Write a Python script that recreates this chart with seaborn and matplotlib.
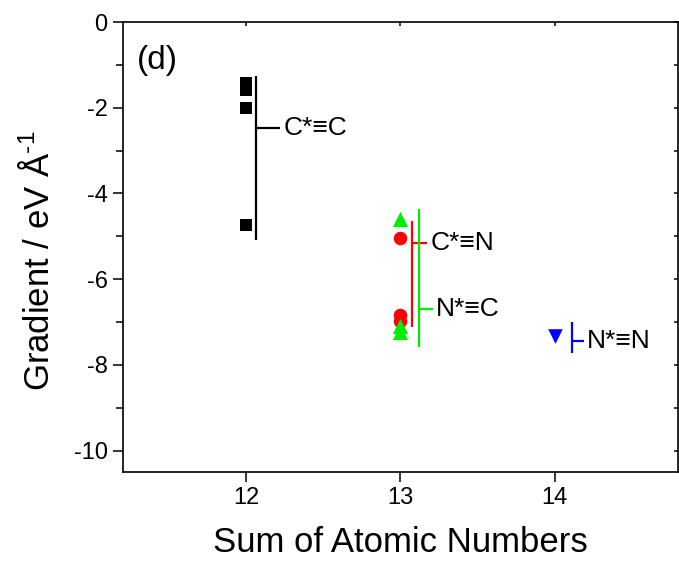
import matplotlib
matplotlib.use("Agg")
import matplotlib.pyplot as plt
import seaborn as sns
import pandas as pd

# ---- data ----
square_x = [12, 12, 12, 12]
square_y = [-1.42, -1.58, -2.0, -4.74]
circle_x = [13, 13, 13]
circle_y = [-5.05, -6.84, -6.98]
tri_up_x = [13, 13, 13]
tri_up_y = [-4.6, -7.1, -7.23]
tri_down_x = [14]
tri_down_y = [-7.33]

bracket_labels = ["C*\u2261C", "C*\u2261N", "N*\u2261C", "N*\u2261N"]
bracket_x = [12.065, 13.078, 13.123, 14.11]
bracket_lo = [-5.09, -7.12, -7.58, -7.72]
bracket_hi = [-1.26, -4.65, -4.37, -7.0]
bracket_mid = [-2.47, -5.16, -6.70, -7.44]
bracket_end = [12.22, 13.175, 13.21, 14.19]
bracket_colors = ["#000000", "#ff0000", "#00ee00", "#0000ff"]

x_ticks = [12, 13, 14]
y_ticks = [0, -2, -4, -6, -8, -10]
y_minor = [-1, -3, -5, -7, -9]

sns.set_theme(style="ticks")
plt.rcParams['font.family'] = ['Liberation Sans', 'DejaVu Sans']
plt.rcParams['mathtext.fontset'] = 'custom'
plt.rcParams['mathtext.rm'] = 'Liberation Sans'
plt.rcParams['mathtext.default'] = 'regular'
plt.rcParams['axes.unicode_minus'] = False
for k in ['text.color', 'axes.labelcolor', 'xtick.color', 'ytick.color', 'axes.edgecolor']:
    plt.rcParams[k] = 'black'

df = pd.DataFrame({
    "x": square_x + circle_x + tri_up_x + tri_down_x,
    "y": square_y + circle_y + tri_up_y + tri_down_y,
    "kind": (["CC"] * len(square_x) + ["CN"] * len(circle_x)
             + ["NC"] * len(tri_up_x) + ["NN"] * len(tri_down_x)),
})
palette = {"CC": "#000000", "CN": "#ff0000", "NC": "#00ee00", "NN": "#0000ff"}
markers = {"CC": "s", "CN": "o", "NC": "^", "NN": "v"}
sizes = {"CC": 80, "CN": 95, "NC": 120, "NN": 110}

fig = plt.figure(figsize=(6.79, 5.67), dpi=100)
ax = fig.add_axes([0.1811, 0.1676, 0.9985 - 0.1811, 0.961 - 0.1676])

for k in ["CC", "CN", "NC", "NN"]:
    sub = df[df["kind"] == k]
    sns.scatterplot(data=sub, x="x", y="y", color=palette[k], marker=markers[k],
                    s=sizes[k], linewidth=0, ax=ax, legend=False, zorder=3)

for i in range(len(bracket_x)):
    c = bracket_colors[i]
    ax.vlines(bracket_x[i], bracket_lo[i], bracket_hi[i], color=c, lw=1.6)
    ax.hlines(bracket_mid[i], bracket_x[i], bracket_end[i], color=c, lw=1.6)
    ax.text(bracket_end[i] + 0.02, bracket_mid[i], bracket_labels[i],
            fontsize=19, va="center", ha="left", color="black")

ax.text(11.29, -0.9, "(d)", fontsize=24, va="center", ha="left")

ax.set_xlim(11.2, 14.8)
ax.set_ylim(-10.5, 0)
ax.set_xticks(x_ticks)
ax.set_yticks(y_ticks)
ax.set_yticks(y_minor, minor=True)
ax.tick_params(axis="both", which="major", labelsize=17, length=7, width=1.1,
               direction="out", pad=4)
ax.tick_params(axis="y", which="minor", length=5, width=1.1, direction="out")
# secondary ticks on the top and right spines (inward, short)
secx = ax.secondary_xaxis("top")
secx.set_xticks(x_ticks)
secx.tick_params(direction="in", length=3, width=1.1, labeltop=False)
secx.spines["top"].set_visible(False)
secy = ax.secondary_yaxis("right")
secy.set_yticks(y_ticks)
secy.set_yticks(y_minor, minor=True)
secy.tick_params(which="both", direction="in", length=3, width=1.1, labelright=False)
secy.spines["right"].set_visible(False)
for s in ax.spines.values():
    s.set_linewidth(1.2)
    s.set_color("black")
    s.set_visible(True)

ax.set_xlabel("Sum of Atomic Numbers", fontsize=25, labelpad=12)
ax.set_ylabel("Gradient / eV \u00c5$^{\\text{-1}}$", fontsize=25, labelpad=10)
ax.yaxis.set_label_coords(-0.121, 0.47)
ax.grid(False)

fig.savefig("out.png", dpi=100)
